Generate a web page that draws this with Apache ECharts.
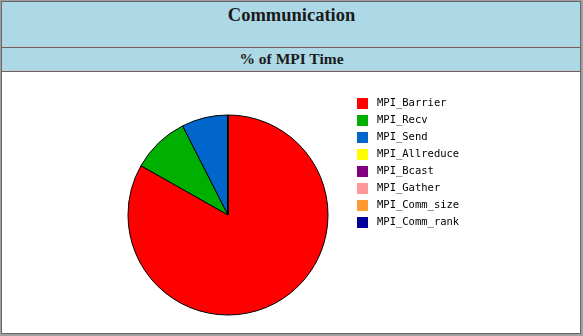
<!DOCTYPE html>
<html>
<head>
<meta charset="utf-8">
<script src="https://cdn.jsdelivr.net/npm/echarts@6/dist/echarts.min.js"></script>
<style>
    body { margin: 0; }
    #page { position: relative; width: 583px; height: 336px; background: #a0a0a0; overflow: hidden; }
    #frame { position: absolute; left: 1px; top: 1px; width: 580px; height: 333px; box-sizing: border-box; border: 1px solid #666; background: #fff; }
    .band { position: absolute; left: 0; right: 0; background: #add8e6; border-bottom: 1px solid #666; box-shadow: inset 0 -1px 0 #c8c8c8; }
    #band1 { top: 0; height: 45px; }
    #band2 { top: 46px; height: 23px; }
    .caption { position: absolute; left: 0; right: 0; text-align: center; font-family: "Liberation Serif", serif; font-weight: bold; color: #1a1a1a; }
    #title { top: 4px; font-size: 18.5px; line-height: 22px; }
    #subtitle { top: 49.5px; font-size: 15.5px; line-height: 18px; }
    #chart { position: absolute; left: 0; top: 0; width: 583px; height: 336px; }
</style>
</head>
<body>
<div id="page">
    <div id="frame">
        <div class="band" id="band1"></div>
        <div class="band" id="band2"></div>
    </div>
    <div class="caption" id="title">Communication</div>
    <div class="caption" id="subtitle">% of MPI Time</div>
    <div id="chart"></div>
</div>
<script>
// MPI calls and their share of MPI time
const calls = ["MPI_Barrier", "MPI_Recv", "MPI_Send", "MPI_Allreduce", "MPI_Bcast", "MPI_Gather", "MPI_Comm_size", "MPI_Comm_rank"];
const percent = [83.2, 9.3, 7.45, 0.02, 0.01, 0.01, 0.005, 0.005];
const colors = ["#ff0000", "#00b000", "#0066cc", "#ffff00", "#800080", "#ff9999", "#ff9933", "#000099"];

const chart = echarts.init(document.getElementById("chart"));
chart.setOption({
    animation: false,
    color: colors,
    legend: {
        orient: "vertical",
        left: 357,
        top: 98,
        itemWidth: 11,
        itemHeight: 11,
        itemGap: 6,
        icon: "rect",
        selectedMode: false,
        padding: 0,
        data: calls,
        itemStyle: { borderWidth: 0 },
        textStyle: {
            fontFamily: "DejaVu Sans Mono",
            fontSize: 10.5,
            lineHeight: 11,
            color: "#000",
            padding: [0, 0, 0, 4]
        }
    },
    series: [
        {
            type: "pie",
            center: [228, 215],
            radius: 100,
            startAngle: 90,
            clockwise: true,
            label: { show: false },
            labelLine: { show: false },
            emphasis: { disabled: true },
            itemStyle: { borderColor: "#000", borderWidth: 1 },
            data: calls.map((name, i) => ({ name: name, value: percent[i] }))
        }
    ]
});
</script>
</body>
</html>
